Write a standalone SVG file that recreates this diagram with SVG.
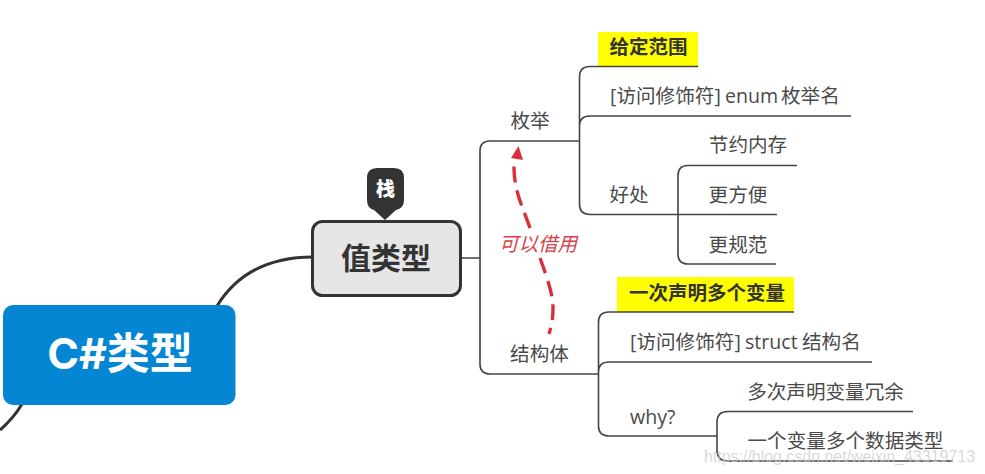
<svg xmlns="http://www.w3.org/2000/svg" width="985" height="474" viewBox="0 0 985 474">
<style>
text{font-family:"Noto Sans CJK SC","Noto Sans",sans-serif;fill:#4a4a4a;font-size:19.600px}
.l{font-family:"Open Sans","Noto Sans CJK SC",sans-serif}
.b{font-weight:700;fill:#333;font-size:19.500px}
.c{text-anchor:middle}
.wire{fill:none;stroke:#444;stroke-width:1.6}
.thick{fill:none;stroke:#333;stroke-width:3}
.dash{fill:none;stroke:#d8303a;stroke-width:3.400;stroke-dasharray:16 8}
.hl{fill:#ffff00}
</style>
<rect width="985" height="474" fill="#fff"/>
<g id="highlights">
<rect class="hl" x="598" y="32" width="100" height="34"/>
<rect class="hl" x="617" y="277" width="177" height="35"/>
</g>
<g id="connectors">
<path class="thick" d="M217 306C238 272 270 257 313 257"/>
<path class="thick" d="M22 404C15 416 8 423 0 430"/>
<path class="wire" d="M461 258H480M580 141H490Q480 141 480 151V364Q480 374 490 374H598"/>
<path class="wire" d="M698 66.500H590Q579.500 66.500 579.500 77V204Q579.500 214.500 590 214.500H777M851 116H590Q579.500 116 579.500 126"/>
<path class="wire" d="M797 165.500H688Q678 165.500 678 175.500V254Q678 264 688 264H776"/>
<path class="wire" d="M794 312H609Q598.500 312 598.500 322V426Q598.500 436 609 436H717M872 362H609Q598.500 362 598.500 372"/>
<path class="wire" d="M913 411.500H728Q717 411.500 717 422V450Q717 461 728 461H953"/>
<path class="dash" d="M530 228C522 205 513 190 514 161"/>
<path class="dash" d="M540 258C548 280 553 295 553 308C553 318 552 324 549 334"/>
<polygon points="518.500,146 511,158 523,160" fill="#d8303a"/>
</g>
<g id="root"><rect x="3" y="305" width="232.500" height="100" rx="10" fill="#0586d2"/>
<text x="120" y="369" class="c" style="font-family:Inter,'Noto Sans CJK SC',sans-serif;font-size:43px;font-weight:700;fill:#fff">C#类型</text></g>
<g id="value"><rect x="312.500" y="221.500" width="148" height="74" rx="10" fill="#e6e6e6" stroke="#333" stroke-width="3"/>
<text x="386" y="269" class="c b" style="font-size:30px">值类型</text></g>
<g id="badge"><path d="M377 168H394Q404 168 404 178V200Q404 208 396 210L385 220L374 210Q367 208 367 200V178Q367 168 377 168Z" fill="#333"/>
<text x="385.500" y="196" class="c" style="font-size:19px;font-weight:900;fill:#fff">栈</text></g>
<g id="n-enum"><text x="530" y="128" class="c">枚举</text></g>
<g id="n-range"><text x="648.500" y="54" class="c b">给定范围</text></g>
<g id="n-enumdecl"><text x="610" y="103" class="l">[访问修饰符]<tspan x="725">enum</tspan><tspan x="781">枚举名</tspan></text></g>
<g id="n-good"><text x="629" y="202" class="c">好处</text></g>
<g id="n-mem"><text x="748" y="152" class="c">节约内存</text></g>
<g id="n-easy"><text x="738" y="202" class="c">更方便</text></g>
<g id="n-norm"><text x="738" y="252" class="c">更规范</text></g>
<g id="n-struct"><text x="539.500" y="361" class="c">结构体</text></g>
<g id="n-multi"><text x="707" y="300" class="c b">一次声明多个变量</text></g>
<g id="n-structdecl"><text x="630" y="349" class="l">[访问修饰符]<tspan x="745">struct</tspan><tspan x="802">结构名</tspan></text></g>
<g id="n-why"><text x="630" y="424" class="l">why?</text></g>
<g id="n-redundant"><text x="825.500" y="399" class="c">多次声明变量冗余</text></g>
<g id="n-types"><text x="845.500" y="448" class="c">一个变量多个数据类型</text></g>
<g id="n-borrow"><text x="538" y="251" class="c" style="font-size:19.500px;font-style:italic;fill:#d8404a">可以借用</text></g>
<text x="704" y="462" style="font-family:'Liberation Sans',sans-serif;font-size:16px;fill:#ccc;fill-opacity:.75" textLength="271" lengthAdjust="spacingAndGlyphs">https://blog.csdn.net/weixin_43319713</text>
</svg>
